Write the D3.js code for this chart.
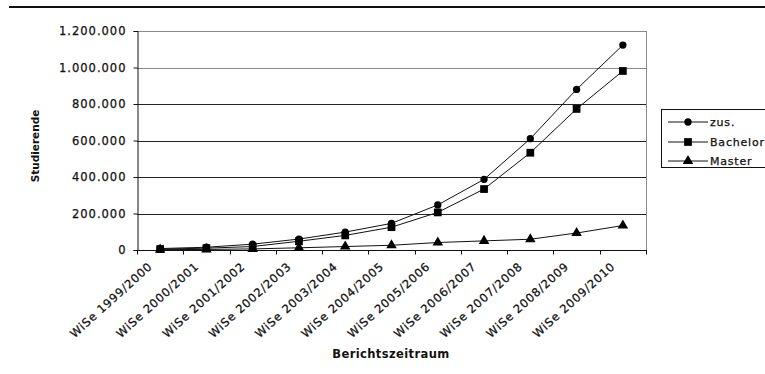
<!DOCTYPE html>
<html><head><meta charset="utf-8">
<script src="https://cdn.jsdelivr.net/npm/d3@7"></script>
<style>
body{margin:0;background:#fff;}
svg{display:block;font-family:"DejaVu Sans",Verdana,sans-serif;}
.lbl{stroke:#000;stroke-width:0.25px;paint-order:stroke;}
</style></head>
<body>
<svg id="chart" width="765" height="374"></svg>
<script>
const categories = ["WiSe 1999/2000","WiSe 2000/2001","WiSe 2001/2002","WiSe 2002/2003","WiSe 2003/2004","WiSe 2004/2005","WiSe 2005/2006","WiSe 2006/2007","WiSe 2007/2008","WiSe 2008/2009","WiSe 2009/2010"];
const zus      = [8000, 15000, 32000, 60000, 98000, 146000, 247000, 387000, 610000, 880000, 1123000];
const bachelor = [5000, 10000, 19000, 48000, 80000, 125000, 206000, 334000, 533000, 773000, 981000];
const master   = [2000, 3000, 6000, 12000, 19000, 26000, 41000, 50000, 59000, 93000, 134000];
const yTicks   = [0, 200000, 400000, 600000, 800000, 1000000, 1200000];
const seriesNames = ["zus.", "Bachelor", "Master"];

const svg = d3.select("#chart");
const W = 765;
const pL = 137, pR = 646, pT = 31, pB = 250;

const x = d3.scaleBand().domain(categories).range([pL, pR]);
const y = d3.scaleLinear().domain([0, 1200000]).range([pB, pT]);
const fmt = v => d3.format(",")(v).replace(/,/g, ".");

// top rule
svg.append("line").attr("x1", 9).attr("x2", W).attr("y1", 7).attr("y2", 7)
  .attr("stroke", "#111").attr("stroke-width", 2);

// gridlines
svg.append("g").selectAll("line").data(yTicks.filter(d => d > 0)).join("line")
  .attr("x1", pL).attr("x2", pR)
  .attr("y1", d => Math.round(y(d)) + 0.5).attr("y2", d => Math.round(y(d)) + 0.5)
  .attr("stroke", d => d >= 1000000 ? "#8a8a8a" : "#222").attr("stroke-width", 1);

// right border of plot area
svg.append("line").attr("x1", pR + 0.5).attr("x2", pR + 0.5).attr("y1", pT).attr("y2", pB)
  .attr("stroke", "#8a8a8a");

// y axis
const yAxis = svg.append("g").attr("transform", `translate(${pL + 0.5},0)`)
  .call(d3.axisLeft(y).tickValues(yTicks).tickFormat(fmt).tickSize(4).tickPadding(7));
yAxis.select(".domain").attr("stroke", "#111");
yAxis.selectAll(".tick line").attr("stroke", "#111");
yAxis.selectAll("text").attr("class", "lbl").attr("font-size", "11.5px").attr("fill", "#111")
  .attr("letter-spacing", "1px").attr("font-family", "DejaVu Sans, sans-serif");

// x axis with ticks at category boundaries
const xAxisG = svg.append("g").attr("transform", `translate(0,${pB + 0.5})`);
xAxisG.append("line").attr("x1", pL).attr("x2", pR + 1).attr("stroke", "#111");
const bounds = categories.map(c => x(c)).concat([pR]);
xAxisG.selectAll("line.tk").data(bounds).join("line").attr("class", "tk")
  .attr("x1", d => Math.round(d) + 0.5).attr("x2", d => Math.round(d) + 0.5)
  .attr("y1", 0).attr("y2", 4).attr("stroke", "#111");
xAxisG.selectAll("text").data(categories).join("text")
  .attr("class", "lbl")
  .attr("transform", d => `translate(${x(d) + x.bandwidth() / 2 - 7},${17}) rotate(-42)`)
  .attr("text-anchor", "end")
  .attr("font-size", "11.5px").attr("letter-spacing", "0.8px").attr("fill", "#111")
  .text(d => d);

// lines & markers
const series = [zus, bachelor, master];
const cx = i => x(categories[i]) + x.bandwidth() / 2;
const line = d3.line().x((d, i) => cx(i)).y(d => y(d));
const symbols = [d3.symbolCircle, d3.symbolSquare, d3.symbolTriangle];
const sizes = [42, 60, 48];
series.forEach((s, k) => {
  svg.append("path").datum(s).attr("d", line).attr("fill", "none")
    .attr("stroke", "#111").attr("stroke-width", 1);
  svg.append("g").selectAll("path").data(s).join("path")
    .attr("transform", (d, i) => `translate(${cx(i)},${y(d)})`)
    .attr("d", d3.symbol().type(symbols[k]).size(sizes[k]))
    .attr("fill", "#000");
});

// axis titles
svg.append("text").attr("transform", `translate(39,146) rotate(-90)`)
  .attr("text-anchor", "middle").attr("font-weight", "bold").attr("font-size", "10.5px")
  .attr("fill", "#111").text("Studierende");
svg.append("text").attr("x", 391).attr("y", 358)
  .attr("text-anchor", "middle").attr("font-weight", "bold").attr("font-size", "11.5px")
  .attr("letter-spacing", "0.4px").attr("fill", "#111").text("Berichtszeitraum");

// legend
const lg = svg.append("g");
lg.append("rect").attr("x", 661.5).attr("y", 109.5).attr("width", 120).attr("height", 58)
  .attr("fill", "#fff").attr("stroke", "#111");
const ly = [122, 142, 161];
seriesNames.forEach((n, k) => {
  lg.append("line").attr("x1", 668).attr("x2", 708).attr("y1", ly[k]).attr("y2", ly[k])
    .attr("stroke", "#111");
  lg.append("path").attr("transform", `translate(688,${ly[k]})`)
    .attr("d", d3.symbol().type(symbols[k]).size(sizes[k])).attr("fill", "#000");
  lg.append("text").attr("class", "lbl").attr("x", 710).attr("y", ly[k] + 4).attr("font-size", "11px")
    .attr("letter-spacing", "0.8px").attr("fill", "#111").text(n);
});
</script>
</body></html>
